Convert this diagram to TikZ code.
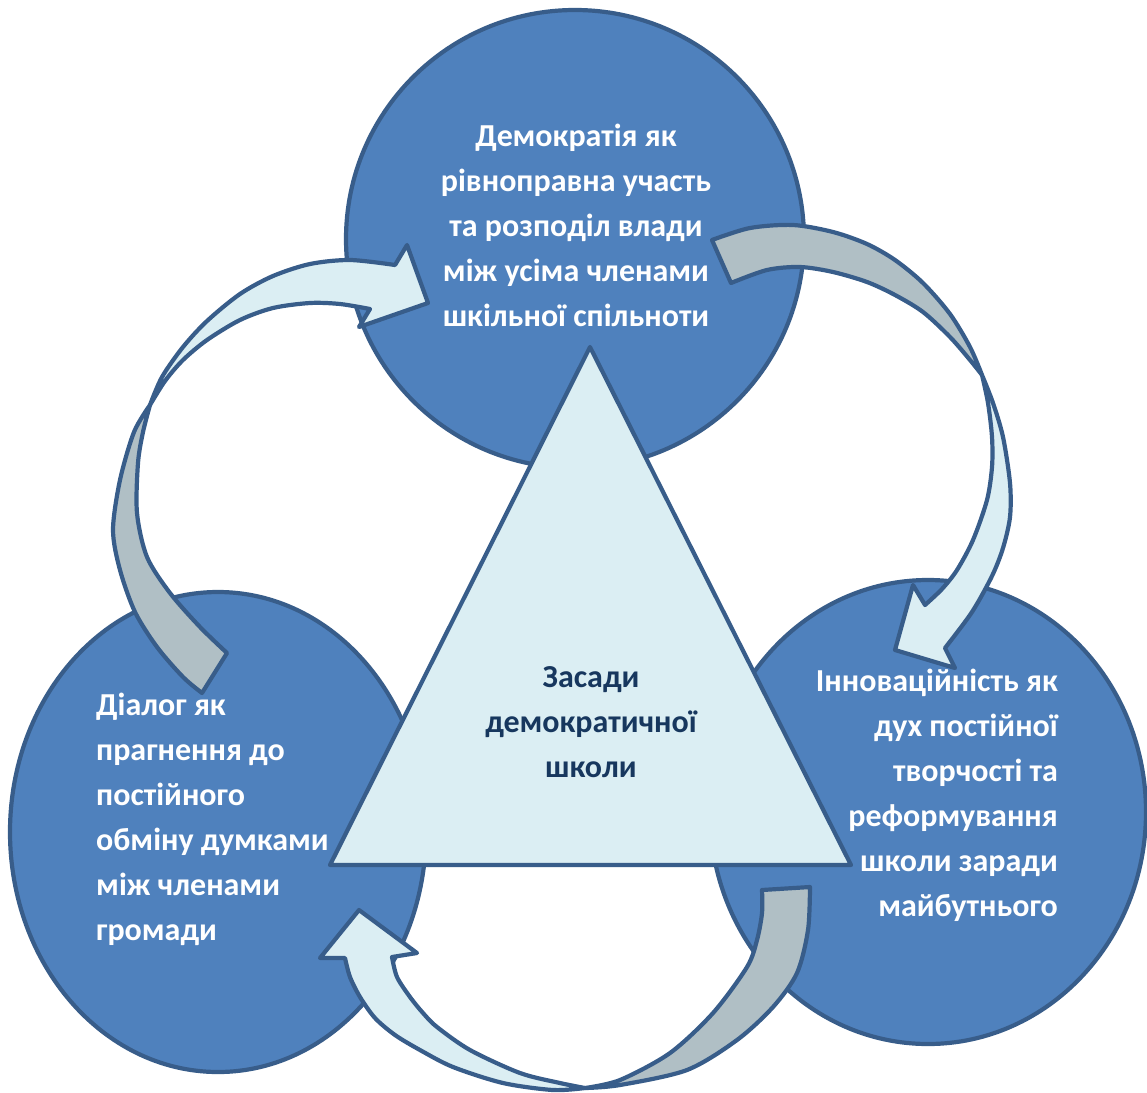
\documentclass[tikz,border=0pt]{standalone}
\usepackage{fontspec}
\setmainfont{Carlito}
\usetikzlibrary{shapes.geometric}
\definecolor{bubbleblue}{RGB}{79,129,189}
\definecolor{rim}{RGB}{56,93,138}
\definecolor{pale}{RGB}{219,238,243}
\definecolor{backside}{RGB}{176,191,197}
\definecolor{navy}{RGB}{23,55,94}
\begin{document}
\begin{tikzpicture}[x=1pt,y=-1pt,
		rimline/.style={draw=rim,line width=4.2pt,line join=round},
		bubble/.style={ellipse,rimline,fill=bubbleblue,inner sep=0pt},
		front/.style={rimline,fill=pale},
		back/.style={rimline,fill=backside},
		words/.style={font=\bfseries\fontsize{32}{45}\selectfont,inner sep=0pt}]
		\useasboundingbox (0,0) rectangle (1147,1092);
		\node[bubble,minimum width=458pt,minimum height=458pt] (top) at (575,239) {};
		\node[bubble,minimum width=416pt,minimum height=480pt] (left) at (218,832) {};
		\node[bubble,minimum width=436pt,minimum height=464pt] (right) at (928,812) {};
		\filldraw[front] (590,347) coordinate (apex) -- (851,865) coordinate (baseR) -- (330,865) coordinate (baseL) -- cycle;
		\node[words,text=white,align=center,anchor=base] (toptext) at (576,326)
			{Демократія як\\рівноправна участь\\та розподіл влади\\між усіма членами\\шкільної спільноти};
		\node[words,text=white,align=left,anchor=base west] (lefttext) at (96,940)
			{Діалог як\\прагнення до\\постійного\\обміну думками\\між членами\\громади};
		\node[words,text=white,align=right,anchor=base east] (righttext) at (1058,916)
			{Інноваційність як\\дух постійної\\творчості та\\реформування\\школи заради\\майбутнього};
		\node[words,text=navy,align=center,anchor=base] (core) at (591,777)
			{Засади\\демократичної\\школи};
		\coordinate (twistA) at (150,405);
		\coordinate (twistB) at (982,375);
		\coordinate (twistC) at (585,1088);
		\filldraw[back] plot[smooth] coordinates {(twistA) (134,432) (120,480) (113,530) (120,570) (135,612) (157,647) (183,677) (202,693)}
			-- plot[smooth] coordinates {(227,653) (200,627) (170,593) (147,557) (137,513) (138,463) (143,432) (twistA)} -- cycle;
		\filldraw[front] plot[smooth] coordinates {(twistA) (162,377) (183,347) (207,321) (240,294) (273,276) (310,264) (350,260) (395,265)}
			-- (407,245) -- (428,303) -- (359,327)
			-- plot[smooth] coordinates {(370,309) (340,304) (310,303) (273,308) (240,320) (207,340) (183,360) (165,381) (twistA)} -- cycle;
		\filldraw[back] plot[smooth] coordinates {(twistB) (970,347) (950,314) (923,283) (895,260) (867,244) (833,232) (793,225) (750,228) (712,240)}
			-- plot[smooth] coordinates {(731,283) (767,270) (800,267) (833,272) (867,282) (895,295) (923,312) (950,337) (970,360) (twistB)} -- cycle;
		\filldraw[front] plot[smooth] coordinates {(twistB) (993,403) (1003,437) (1010,483) (1010,517) (1003,548) (992,576) (972,612) (945,648)}
			-- (955,668) -- (895,650) -- (913,585)
			-- plot[smooth] coordinates {(925,605) (942,589) (957,570) (973,540) (987,500) (992,467) (992,437) (988,403) (twistB)} -- cycle;
		\filldraw[front] plot[smooth] coordinates {(twistC) (553,1090) (503,1083) (453,1067) (420,1050) (395,1035) (375,1018) (360,997) (350,977) (345,958)}
			-- (320,958) -- (359,910) -- (417,953)
			-- plot[smooth] coordinates {(392,957) (397,977) (410,997) (423,1013) (437,1027) (470,1050) (520,1073) (560,1083) (twistC)} -- cycle;
		\filldraw[back] plot[smooth] coordinates {(twistC) (620,1085) (687,1070) (737,1040) (773,1007) (797,973) (808,930) (810,887)}
			-- plot[smooth] coordinates {(762,890) (762,913) (757,940) (747,967) (713,1013) (670,1053) (620,1080) (twistC)} -- cycle;
	\end{tikzpicture}
\end{document}
